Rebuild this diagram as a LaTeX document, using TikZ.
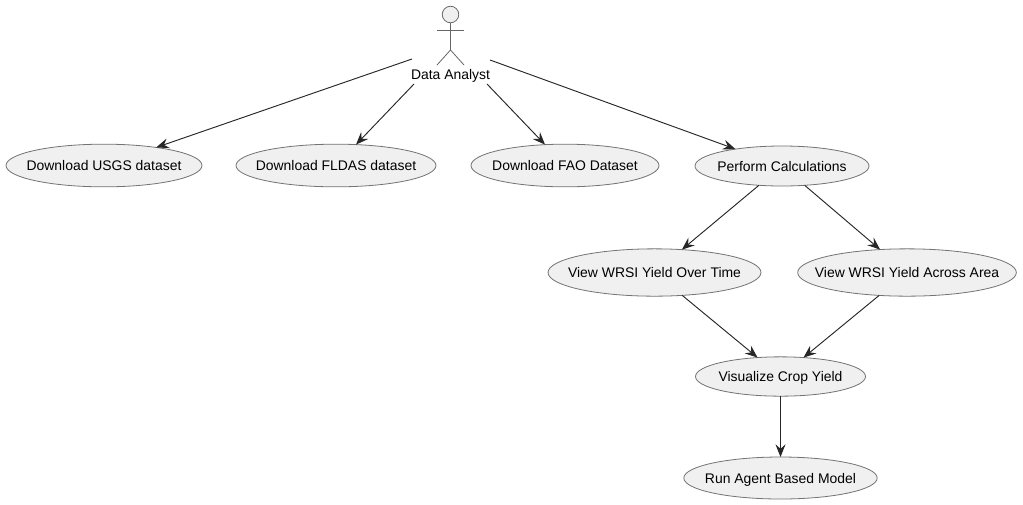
\documentclass[tikz,border=0pt]{standalone}
\usepackage{fontspec}
\setmainfont{Liberation Sans}
\usetikzlibrary{shapes.geometric,arrows.meta}
\tikzset{
  uc/.style={ellipse,draw=black!55!white,fill=black!6,line width=0.6pt,inner sep=-25pt,outer sep=0pt,font=\fontsize{10.45pt}{12pt}\selectfont,text=black,text height=8.5pt,text depth=1pt,minimum height=30pt},
  link/.style={draw=black!85,line width=0.7pt,-{Stealth[length=9.5pt,width=7.5pt,inset=3.4pt]}},
  stick/.style={draw=black!60,line width=0.6pt}
}
\begin{document}
\begin{tikzpicture}[x=0.75pt,y=-0.75pt]
\useasboundingbox (0,0) rectangle (1023,504);
\fill[white] (0,0) rectangle (1023,504);
% actor
\node[circle,draw=black!60,fill=black!6,line width=0.6pt,minimum size=12.4pt,inner sep=0pt] (head) at (450.5,14.5) {};
\coordinate (hip) at (450.5,50);
\coordinate (armL) at (437,30);
\coordinate (armR) at (464,30);
\coordinate (footL) at (437,65);
\coordinate (footR) at (464,65);
\draw[stick] (head.south) -- (hip);
\draw[stick] (armL) -- (armR);
\draw[stick] (footL) -- (hip) -- (footR);
\node[font=\fontsize{10.45pt}{12pt}\selectfont,text=black,inner sep=0pt] (actor) at (450.5,76) {Data Analyst};
\coordinate (p1) at (412,59);
\coordinate (p2) at (414,84);
\coordinate (p3) at (487,84);
\coordinate (p4) at (490,60);
% use cases
\node[uc,minimum width=147pt,minimum height=32pt] (usgs) at (104,165.5) {Download USGS dataset};
\node[uc,minimum width=150pt,minimum height=32pt] (fldas) at (336,165.5) {Download FLDAS dataset};
\node[uc,minimum width=141pt,minimum height=32pt] (fao) at (565,165.5) {Download FAO Dataset};
\node[uc,minimum width=130.5pt] (calc) at (782,166) {Perform Calculations};
\node[uc,minimum width=159.7pt,minimum height=35.5pt] (time) at (654.5,272.5) {View WRSI Yield Over Time};
\node[uc,minimum width=164pt,minimum height=35.5pt] (area) at (907,272.5) {View WRSI Yield Across Area};
\node[uc,minimum width=127.5pt,minimum height=29.5pt] (viz) at (780.5,376.5) {Visualize Crop Yield};
\node[uc,minimum width=145pt,minimum height=31.5pt] (abm) at (780.5,478) {Run Agent Based Model};
% connectors
\draw[link] (p1) -- (usgs);
\draw[link] (p2) -- (fldas);
\draw[link] (p3) -- (fao);
\draw[link] (p4) -- (calc);
\draw[link] (calc) -- (time);
\draw[link] (calc) -- (area);
\draw[link] (time) -- (viz);
\draw[link] (area) -- (viz);
\draw[link] (viz) -- (abm);
\end{tikzpicture}
\end{document}
